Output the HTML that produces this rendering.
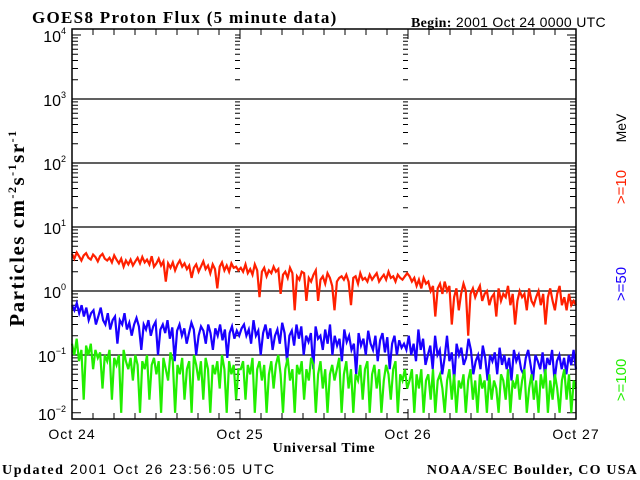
<!DOCTYPE html>
<html><head><meta charset="utf-8"><style>
body{margin:0;background:#fff;width:640px;height:480px;overflow:hidden}
svg{display:block}
.s{font-family:"Liberation Sans",sans-serif}
.r{font-family:"Liberation Serif",serif}
</style></head><body>
<svg id="c" width="640" height="480" xmlns="http://www.w3.org/2000/svg">
<text x="32" y="23" class="r" font-size="17" font-weight="bold" letter-spacing="1.3">GOES8 Proton Flux (5 minute data)</text>
<text x="411" y="27" class="s" font-size="14" letter-spacing="0.3"><tspan class="r" font-weight="bold">Begin:</tspan> 2001 Oct 24 0000 UTC</text>
<text x="2" y="474" class="s" font-size="14" letter-spacing="1.6"><tspan class="r" font-weight="bold">Updated</tspan> 2001 Oct 26 23:56:05 UTC</text>
<text x="638" y="474" text-anchor="end" class="r" font-size="14" font-weight="bold" letter-spacing="1.2">NOAA/SEC Boulder, CO USA</text>
<text x="324" y="452" text-anchor="middle" class="r" font-size="14" font-weight="bold" letter-spacing="0.8">Universal Time</text>
<text transform="translate(24,228) rotate(-90)" text-anchor="middle" class="r" font-size="21" font-weight="bold" letter-spacing="1.5">Particles cm<tspan font-size="12" dy="-8">-2</tspan><tspan dy="8">s</tspan><tspan font-size="12" dy="-8">-1</tspan><tspan dy="8">sr</tspan><tspan font-size="12" dy="-8">-1</tspan></text>
<text transform="translate(626,128) rotate(-90)" text-anchor="middle" class="s" font-size="14" fill="#000">MeV</text>
<text transform="translate(626,187) rotate(-90)" text-anchor="middle" class="s" font-size="15" fill="#ff2000">&gt;=10</text>
<text transform="translate(626,284) rotate(-90)" text-anchor="middle" class="s" font-size="15" fill="#1a00ff">&gt;=50</text>
<text transform="translate(626,380) rotate(-90)" text-anchor="middle" class="s" font-size="15" fill="#22ee00">&gt;=100</text>
<g id="plot"></g>
</svg>
<script>
const dayLabels=["Oct 24","Oct 25","Oct 26","Oct 27"];
const decades=[-2,-1,0,1,2,3,4];
const red=[3.8,3.2,4.0,3.5,3.0,3.6,3.9,3.3,3.1,3.7,3.4,2.9,3.5,3.8,3.2,3.0,3.3,2.8,3.6,3.1,2.7,3.2,2.4,3.0,2.6,3.1,2.5,2.9,3.3,2.7,3.4,2.8,3.1,2.6,3.5,2.4,
2.7,3.2,2.5,2.9,1.4,2.7,2.3,2.8,2.1,2.6,3.0,2.4,2.7,2.2,2.5,1.6,2.3,2.6,2.0,2.4,2.9,2.2,2.5,1.9,2.6,2.2,1.1,2.4,2.8,2.1,2.5,2.0,2.7,2.3,2.4,2.1,
2.3,2.0,2.6,1.9,2.2,1.8,2.6,2.1,0.8,2.0,2.3,1.7,2.1,1.9,2.4,2.0,2.2,0.9,1.8,2.0,1.6,2.3,1.9,0.5,1.7,1.5,2.0,1.9,0.7,1.6,1.4,1.8,2.1,0.7,1.5,1.7,
1.3,1.9,1.6,1.2,0.5,1.4,1.6,1.7,1.5,1.8,1.4,0.6,1.6,1.7,1.3,1.9,1.5,1.6,1.4,1.8,1.5,1.7,1.9,1.4,1.6,1.8,1.5,2.0,1.6,1.7,1.4,1.8,1.6,1.5,1.7,1.9,
1.7,1.4,1.6,1.2,1.5,1.1,1.6,1.3,1.4,1.0,1.2,0.4,1.1,1.3,0.9,1.4,1.0,1.2,0.3,0.8,1.1,0.5,0.9,1.3,1.0,0.2,0.9,1.1,0.8,1.0,1.2,0.7,0.9,1.0,0.6,0.8,
0.9,0.4,1.1,0.7,0.9,0.8,1.2,0.6,0.9,0.3,0.7,1.0,0.8,0.9,0.5,1.1,0.7,0.6,0.8,1.0,0.6,0.9,0.3,0.8,1.1,0.7,0.5,0.9,1.2,0.6,0.8,0.5,0.9,0.6,0.7,0.6];
const blue=[0.6,0.5,0.65,0.45,0.6,0.4,0.55,0.35,0.45,0.5,0.3,0.4,0.55,0.35,0.3,0.45,0.25,0.35,0.4,0.15,0.35,0.3,0.45,0.25,0.32,0.2,0.3,0.38,0.28,0.12,0.3,0.25,0.35,0.2,0.28,0.33,
0.1,0.25,0.3,0.22,0.35,0.18,0.27,0.08,0.24,0.3,0.2,0.26,0.15,0.22,0.32,0.25,0.1,0.2,0.28,0.24,0.15,0.3,0.22,0.12,0.26,0.2,0.3,0.17,0.25,0.09,0.22,0.28,0.18,0.24,0.2,0.26,
0.3,0.2,0.25,0.15,0.35,0.2,0.24,0.1,0.22,0.3,0.18,0.26,0.12,0.2,0.25,0.15,0.32,0.22,0.08,0.2,0.24,0.14,0.3,0.18,0.28,0.1,0.2,0.16,0.22,0.06,0.28,0.18,
0.2,0.12,0.25,0.15,0.3,0.1,0.2,0.14,0.18,0.08,0.25,0.16,0.2,0.12,0.15,0.05,0.22,0.14,0.18,0.1,0.24,0.15,0.12,0.2,0.08,0.17,0.22,0.11,0.19,0.06,0.15,0.2,0.1,0.17,0.13,0.15,
0.12,0.2,0.1,0.15,0.08,0.25,0.12,0.18,0.07,0.1,0.14,0.06,0.2,0.1,0.12,0.05,0.09,0.2,0.08,0.11,0.04,0.15,0.1,0.13,0.07,0.09,0.18,0.12,0.05,0.08,0.1,0.06,0.14,0.09,0.04,0.1,
0.08,0.11,0.05,0.13,0.07,0.1,0.06,0.09,0.04,0.12,0.08,0.1,0.06,0.05,0.09,0.12,0.07,0.04,0.1,0.08,0.06,0.11,0.05,0.09,0.07,0.12,0.04,0.08,0.1,0.06,0.09,0.05,0.1,0.07,0.12,0.06];
const green=[0.15,0.1,0.18,0.08,0.12,0.02,0.14,0.1,0.15,0.06,0.12,0.09,0.11,0.03,0.1,0.08,0.12,0.02,0.09,0.07,0.1,0.01,0.12,0.08,0.06,0.09,0.04,0.1,0.07,0.01,0.08,0.06,0.1,0.02,0.07,0.09,
0.05,0.08,0.01,0.09,0.06,0.04,0.11,0.08,0.01,0.07,0.05,0.09,0.02,0.06,0.08,0.01,0.1,0.07,0.04,0.08,0.02,0.09,0.06,0.01,0.07,0.05,0.08,0.03,0.1,0.06,0.01,0.08,0.05,0.07,0.02,0.06,
0.06,0.08,0.02,0.07,0.05,0.09,0.01,0.06,0.08,0.04,0.07,0.01,0.05,0.08,0.03,0.07,0.1,0.05,0.01,0.06,0.09,0.04,0.06,0.01,0.07,0.05,0.08,0.02,0.06,0.04,0.09,0.07,0.01,0.05,0.08,0.03,
0.06,0.01,0.05,0.07,0.04,0.06,0.09,0.01,0.05,0.08,0.03,0.06,0.01,0.05,0.04,0.07,0.02,0.06,0.08,0.01,0.05,0.07,0.03,0.06,0.01,0.04,0.07,0.05,0.02,0.06,0.08,0.01,0.05,0.04,0.06,0.03,
0.04,0.06,0.01,0.05,0.03,0.06,0.01,0.04,0.05,0.02,0.06,0.01,0.04,0.05,0.03,0.01,0.04,0.06,0.02,0.05,0.01,0.04,0.03,0.05,0.01,0.04,0.06,0.02,0.04,0.01,0.05,0.03,0.04,0.01,0.05,0.02,
0.04,0.03,0.01,0.05,0.04,0.02,0.06,0.01,0.04,0.03,0.05,0.02,0.04,0.06,0.01,0.03,0.05,0.02,0.04,0.01,0.05,0.03,0.06,0.01,0.04,0.02,0.05,0.03,0.01,0.04,0.06,0.02,0.05,0.01,0.04,0.03];
const NS="http://www.w3.org/2000/svg";
const X0=72,X1=576,Y0=29,YB=419;
const xAt=d=>X0+(X1-X0)*d/3;
const yAt=v=>99-64*(Math.log10(Math.max(v,0.0125))-3);
const g=document.getElementById('plot');
function mk(t,a){const e=document.createElementNS(NS,t);for(const k in a)e.setAttribute(k,a[k]);g.appendChild(e);return e;}
decades.forEach(p=>{
 if(p>-2&&p<4){const l=mk('line',{x1:X0,x2:X1,y1:yAt(Math.pow(10,p)),y2:yAt(Math.pow(10,p)),stroke:'#000','stroke-width':1.2});
 
 }
 const t=mk('text',{x:66,y:yAt(Math.pow(10,p))+7,'text-anchor':'end','font-size':16,class:'s'});
 
 
 t.innerHTML='10<tspan font-size="9" dy="-8">'+(p<0?'−'+(-p):p)+'</tspan>';
});
let tk='';
for(let p=-2;p<=4;p++)for(let m=1;m<=9;m++){const v=m*Math.pow(10,p);const y=yAt(v);if(y<Y0||y>YB||(p===4&&m>1))continue;const L=m===1?9:6;
 tk+=`M${X0} ${y}h${L}M${X1} ${y}h${-L}`;
 [1,2].forEach(d=>{const x=xAt(d);tk+=`M${x-5} ${y}h5`;});}
for(let h=0;h<=24;h++){const x=xAt(h/8);const L=h%8===0?10:6;tk+=`M${x} ${YB}v${-L}M${x} ${Y0}v${L}`;}
const ticks=mk('path',{d:tk,stroke:'#000','stroke-width':1,fill:'none'});


dayLabels.forEach((s,i)=>{const t=mk('text',{x:xAt(i),y:439,'text-anchor':'middle','font-size':14,'letter-spacing':1,class:'s'});
 
 
 t.textContent=s;});
[[red,'#ff2000','series-10mev'],[blue,'#1a00ff','series-50mev'],[green,'#22ee00','series-100mev']].forEach(([arr,c,n])=>{
 const pts=arr.map((v,i)=>xAt(3*i/(arr.length-1)).toFixed(1)+','+yAt(v).toFixed(1)).join(' ');
 const pl=mk('polyline',{points:pts,fill:'none',stroke:c,'stroke-width':2.2,'stroke-linejoin':'miter'});
 
 
});
const fr=mk('rect',{x:X0,y:Y0,width:X1-X0,height:YB-Y0,fill:'none',stroke:'#000','stroke-width':1.5});


</script>
</body></html>
